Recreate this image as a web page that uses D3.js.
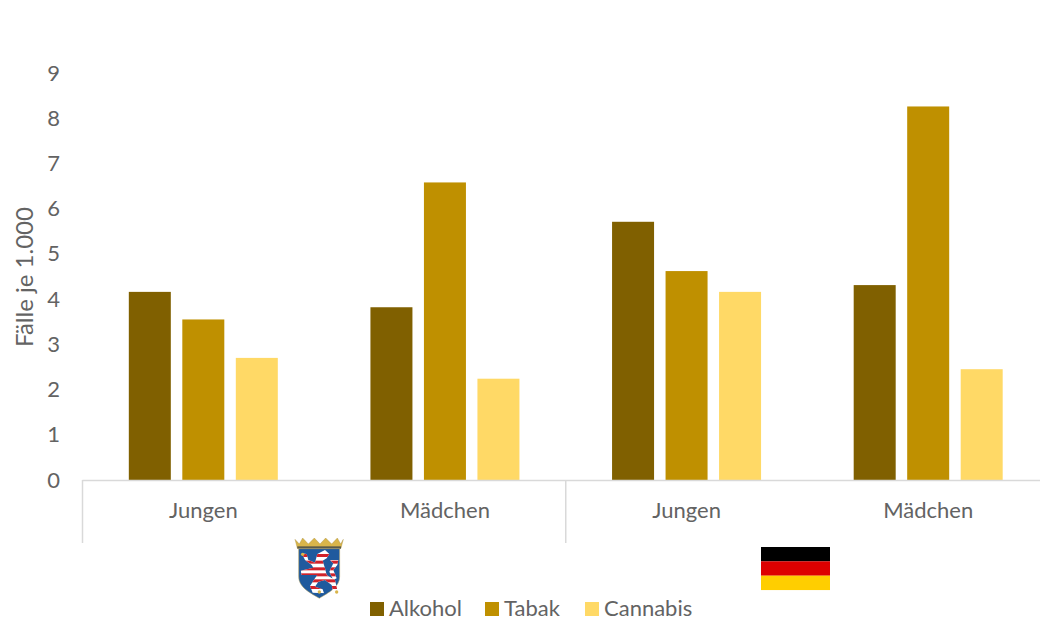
<!DOCTYPE html>
<html><head><meta charset="utf-8">
<script src="https://cdn.jsdelivr.net/npm/d3@7"></script>
<style>html,body{margin:0;background:#fff}svg{display:block}text{font-family:Lato,"Open Sans",sans-serif;fill:#636363}</style>
</head><body><svg id="c" width="1040" height="620"></svg>
<script>
const groups = ["Hessen Jungen","Hessen Mädchen","Deutschland Jungen","Deutschland Mädchen"];
const groupLabels = ["Jungen","Mädchen","Jungen","Mädchen"];
const seriesNames = ["Alkohol","Tabak","Cannabis"];
const seriesColors = ["#806000","#BF9000","#FFD966"];
const alkohol = [4.16,3.82,5.71,4.31];
const tabak = [3.55,6.58,4.62,8.26];
const cannabis = [2.70,2.24,4.16,2.45];
const yTicks = [0,1,2,3,4,5,6,7,8,9];
const flagColors = ["#000000","#DD0000","#FFCE00"];
const seriesValues = [alkohol,tabak,cannabis];

const svg = d3.select("#c");
const y = d3.scaleLinear().domain([0,9]).range([480,73]);
const x0 = d3.scaleBand().domain(groups).range([82.5,1049]);
const barGroupW = 149;
const x1 = d3.scaleBand().domain(seriesNames).range([0,barGroupW]).paddingInner(0.215);
const offset = (x0.bandwidth()-barGroupW)/2;

seriesNames.forEach((s,i)=>{
  svg.append("g").selectAll("rect").data(groups).join("rect")
    .attr("x",g=>x0(g)+offset+x1(s))
    .attr("width",x1.bandwidth())
    .attr("y",(g,j)=>y(seriesValues[i][j]))
    .attr("height",(g,j)=>y(0)-y(seriesValues[i][j]))
    .attr("fill",seriesColors[i]);
});

const axisCol="#d9d9d9";
svg.append("line").attr("x1",82.5).attr("x2",1040).attr("y1",480.5).attr("y2",480.5).attr("stroke",axisCol).attr("stroke-width",1.5);
[x0(groups[0]),x0(groups[2])].forEach(px=>{
  svg.append("line").attr("x1",px).attr("x2",px).attr("y1",480).attr("y2",543).attr("stroke",axisCol).attr("stroke-width",1.5);
});

svg.append("g").selectAll("text").data(yTicks).join("text")
  .attr("x",60).attr("y",d=>y(d)+7.5).attr("text-anchor","end").attr("font-size",22).text(d=>d);

svg.append("g").selectAll("text").data(groups).join("text")
  .attr("x",g=>x0(g)+x0.bandwidth()/2).attr("y",518).attr("text-anchor","middle").attr("font-size",22)
  .text((g,i)=>groupLabels[i]);

svg.append("text").attr("transform","translate(33,277) rotate(-90)").attr("text-anchor","middle").attr("font-size",24).text("Fälle je 1.000");

const legendX=[370,485,585];
seriesNames.forEach((s,i)=>{
  svg.append("rect").attr("x",legendX[i]).attr("y",602).attr("width",14).attr("height",14).attr("fill",seriesColors[i]);
  svg.append("text").attr("x",legendX[i]+19).attr("y",616).attr("font-size",22).text(s);
});

flagColors.forEach((c,i)=>{
  svg.append("rect").attr("x",761).attr("y",547+i*14.33).attr("width",69).attr("height",14.4).attr("fill",c);
});

// Hessen crest (emblem, drawn by hand)
const crest = svg.append("g").attr("transform","translate(280,530) scale(0.3333)");
crest.append("path").attr("fill","#d9b54a").attr("stroke","#9c8433").attr("stroke-width",1)
  .attr("d","M45,28 L58,42 L68,24 L85,42 L103,24 L120,42 L137,24 L155,42 L172,24 L182,42 L190,28 L183,55 L52,55 Z");
crest.append("rect").attr("x",52).attr("y",49).attr("width",131).attr("height",7).attr("fill","#5b5b4a");
crest.append("path").attr("fill","#1f5a9e").attr("stroke","#c9ad5a").attr("stroke-width",1.5)
  .attr("d","M56,56 H179 V140 C179,172 145,188 118,205 C90,188 56,172 56,140 Z");
crest.append("clipPath").attr("id","lion").append("path")
  .attr("d","M65,70 L80,72 L85,90 L105,98 L112,72 L135,60 L148,72 L140,85 L128,92 L135,115 L140,135 L165,150 L172,180 L178,188 L160,190 L155,165 L135,150 L115,155 L105,170 L128,178 L132,190 L98,188 L90,168 L105,145 L112,135 L65,135 L62,122 L100,113 L95,105 L75,90 Z M150,90 L175,90 L172,105 L160,120 L170,145 L160,150 L148,125 L160,100 Z");
const lion = crest.append("g").attr("clip-path","url(#lion)");
lion.append("rect").attr("x",50).attr("y",50).attr("width",135).attr("height",150).attr("fill","#ffffff");
[72,92,112,130,148,168].forEach(sy=>lion.append("rect").attr("x",50).attr("y",sy).attr("width",135).attr("height",9).attr("fill","#d0222b"));
[[68,73],[170,186],[118,186]].forEach(p=>crest.append("circle").attr("cx",p[0]).attr("cy",p[1]).attr("r",5).attr("fill","#d9b54a"));
</script></body></html>
